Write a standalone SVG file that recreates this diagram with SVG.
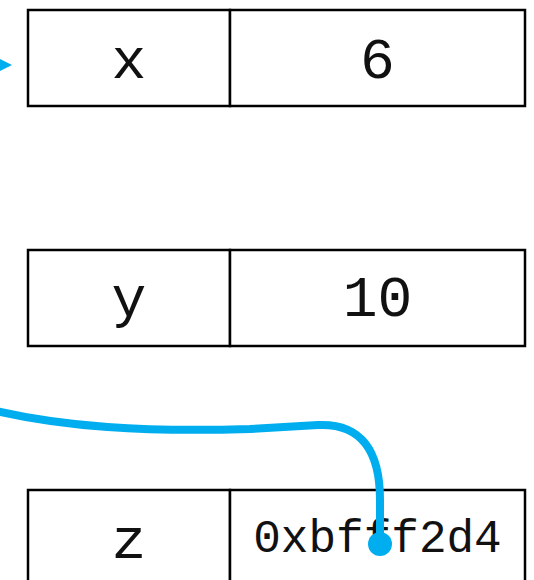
<svg xmlns="http://www.w3.org/2000/svg" width="534" height="580" viewBox="0 0 534 580">
  <style>
    .cell { fill: #ffffff; stroke: #000000; stroke-width: 2.5; }
    .t { font-family: "Liberation Mono", "Courier New", monospace; fill: #111111; text-anchor: middle; }
    .big { font-size: 58px; }
    .small { font-size: 46px; }
    .wire { fill: none; stroke: #00AEEF; stroke-width: 8; stroke-linecap: round; }
  </style>
  <defs>
    <marker id="arrow" markerUnits="userSpaceOnUse" markerWidth="16" markerHeight="16" refX="2" refY="8" orient="auto">
      <path d="M0,0 L16,8 L0,16 z" fill="#00AEEF"/>
    </marker>
  </defs>
  <rect width="534" height="580" fill="#ffffff"/>
  <g id="node-x">
    <rect class="cell" x="28" y="10" width="202" height="96"/>
    <rect class="cell" x="230" y="10" width="295" height="96"/>
    <text class="t big" x="129" y="77.5">x</text>
    <text class="t big" x="377.5" y="77.5">6</text>
  </g>
  <g id="node-y">
    <rect class="cell" x="28" y="250" width="202" height="96"/>
    <rect class="cell" x="230" y="250" width="295" height="96"/>
    <text class="t big" x="129" y="315.5">y</text>
    <text class="t big" x="377.5" y="315.5">10</text>
  </g>
  <g id="node-z">
    <rect class="cell" x="28" y="490" width="202" height="96"/>
    <rect class="cell" x="230" y="490" width="295" height="96"/>
    <text class="t big" x="129" y="557.5">z</text>
    <text class="t small" x="377.5" y="552">0xbfff2d4</text>
  </g>
  <g id="connectors">
    <path d="M-60,65 L-2,65" fill="none" stroke="#00AEEF" stroke-width="7" marker-end="url(#arrow)"/>
    <path class="wire" d="M-20,407 C60,428 150,432 250,429 L318,425 C362,423 380,452 380,500 L380,544"/>
    <circle cx="380" cy="544" r="12" fill="#00AEEF"/>
  </g>
</svg>
